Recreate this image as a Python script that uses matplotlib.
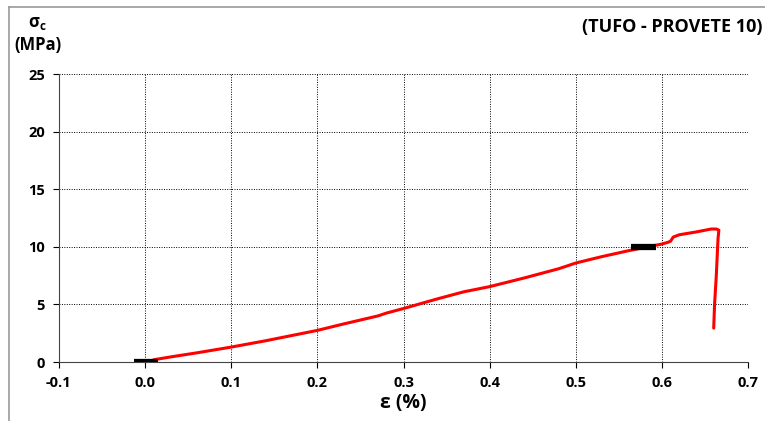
import matplotlib
matplotlib.use("Agg")
import matplotlib.pyplot as plt
from matplotlib.lines import Line2D

strain = [0.010, 0.03, 0.06, 0.10, 0.14, 0.18, 0.20, 0.23, 0.25, 0.27, 0.28, 0.30, 0.34, 0.37, 0.40,
          0.44, 0.48, 0.50, 0.53, 0.56, 0.58, 0.60, 0.607, 0.610, 0.613, 0.62, 0.64, 0.657, 0.663, 0.666,
          0.665, 0.663, 0.661, 0.660]
stress = [0.20, 0.45, 0.80, 1.30, 1.85, 2.45, 2.75, 3.30, 3.65, 4.00, 4.25, 4.65, 5.50, 6.10, 6.55,
          7.30, 8.10, 8.60, 9.15, 9.65, 9.95, 10.25, 10.40, 10.50, 10.85, 11.05, 11.30, 11.55, 11.55, 11.45,
          10.70, 7.50, 5.00, 2.95]

mark_x = [[-0.013, 0.015], [0.564, 0.593]]
mark_y = [[0.0, 0.0], [10.0, 10.0]]

xticks = [-0.1, 0.0, 0.1, 0.2, 0.3, 0.4, 0.5, 0.6, 0.7]
xlabels = ["-0.1", "0.0", "0.1", "0.2", "0.3", "0.4", "0.5", "0.6", "0.7"]
yticks = [0, 5, 10, 15, 20, 25]

plt.rcParams['font.family'] = ['Open Sans', 'DejaVu Sans']
fig = plt.figure(figsize=(7.65, 4.21), dpi=100)
ax = fig.add_axes([0.077, 0.140, 0.901, 0.684])

ax.plot(strain, stress, color='#ff0000', lw=2.2, solid_capstyle='round', zorder=3)
for mx, my in zip(mark_x, mark_y):
    ax.plot(mx, my, color='black', lw=4.5, solid_capstyle='butt', zorder=4)

ax.set_xlim(-0.1, 0.7)
ax.set_ylim(0, 25)
ax.set_xticks(xticks)
ax.set_xticklabels(xlabels)
ax.set_yticks(yticks)
ax.grid(True, color='black', linestyle=(0, (1, 1.5)), lw=0.7)
ax.spines['top'].set_visible(False)
ax.spines['right'].set_visible(False)
ax.spines['left'].set_color('#444444')
ax.spines['bottom'].set_color('#444444')
ax.tick_params(direction='out', length=4, width=0.8, labelsize=10.5, pad=6)
for lab in ax.get_xticklabels() + ax.get_yticklabels():
    lab.set_fontweight('bold')

ax.set_xlabel("ε (%)", fontsize=14, fontweight='bold', labelpad=2)

fig.text(0.049, 0.945, r"σ$_\mathregular{c}$", fontsize=12, fontweight='bold', ha='center', va='center')
fig.text(0.049, 0.893, "(MPa)", fontsize=12, fontweight='bold', ha='center', va='center')
fig.text(0.997, 0.935, "(TUFO - PROVETE 10)", fontsize=13, fontweight='bold', ha='right', va='center')

# frame lines (top and left)
fig.add_artist(Line2D([0.0115, 1.0], [0.984, 0.984], transform=fig.transFigure, color='#999999', lw=1.2))
fig.add_artist(Line2D([0.0115, 0.0115], [0.0, 0.984], transform=fig.transFigure, color='#999999', lw=1.2))

fig.savefig("out.png", dpi=100)
